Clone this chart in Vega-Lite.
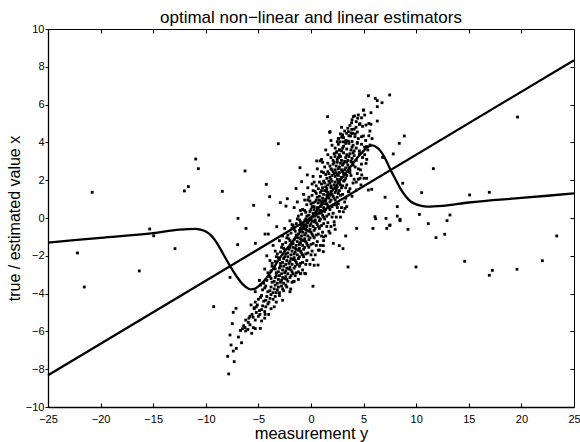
{
  "$schema": "https://vega.github.io/schema/vega-lite/v6.json",
  "width": 526,
  "height": 378,
  "autosize": "none",
  "padding": {"left": 48, "top": 29, "right": 6, "bottom": 35},
  "background": "white",
  "config": {"view": {"stroke": "black", "strokeWidth": 1}, "font": "Liberation Sans"},
  "title": {"text": "optimal non−linear and linear estimators", "fontSize": 17, "fontWeight": "normal", "font": "Liberation Sans", "color": "black", "offset": 0, "dy": 4, "anchor": "middle"},
  "datasets": {
    "pts": [
      {"m": -20.8, "v": 1.36}, {"m": -10.96, "v": 3.12}, {"m": -10.71, "v": 2.61}, {"m": -12.04, "v": 1.43}, {"m": -11.66, "v": 1.66}, {"m": -8.43, "v": 1.41}, {"m": -6.27, "v": 2.49}, {"m": -3.11, "v": 3.93}, {"m": -4.25, "v": 1.78}, {"m": -3.93, "v": 1.13}, {"m": -5.45, "v": 0.67}, {"m": -2.92, "v": 0.81}, {"m": -2.38, "v": 0.63}, {"m": -2.25, "v": 1.02}, {"m": -4.02, "v": 0.16}, {"m": -6.94, "v": -0.02},
      {"m": -22.2, "v": -1.85}, {"m": -21.55, "v": -3.65}, {"m": -15.33, "v": -0.58}, {"m": -14.95, "v": -0.94}, {"m": -16.32, "v": -2.8}, {"m": -12.93, "v": -1.62}, {"m": -9.25, "v": -4.69}, {"m": -7.7, "v": -3.14}, {"m": -6.97, "v": -1.41}, {"m": -6.18, "v": -0.55}, {"m": -7.82, "v": -8.25}, {"m": -7.92, "v": -7.32}, {"m": -7.6, "v": -6.72}, {"m": -7.39, "v": -7.04}, {"m": -7.7, "v": -6.19}, {"m": -7.48, "v": -5.59}, {"m": -7.13, "v": -4.78}, {"m": -7.39, "v": -4.99}, {"m": -6.53, "v": -5.86}, {"m": -6.21, "v": -5.98}, {"m": -6.27, "v": -5.8}, {"m": -5.64, "v": -6.1}, {"m": -5.49, "v": -5.8}, {"m": -5.96, "v": -5.52}, {"m": -4.82, "v": -5.84}, {"m": -5.8, "v": -5.2}, {"m": -5.2, "v": -5.0}, {"m": -4.86, "v": -5.1}, {"m": -4.36, "v": -5.1}, {"m": -4.02, "v": -5.1}, {"m": -5.4, "v": -4.75}, {"m": -4.37, "v": -0.85}, {"m": -4.06, "v": -0.85}, {"m": -3.26, "v": -0.46}, {"m": -5.29, "v": -1.34},
      {"m": 4.34, "v": -0.55}, {"m": 5.89, "v": -0.55}, {"m": 7.48, "v": -0.39}, {"m": 9.22, "v": -0.6}, {"m": 11.15, "v": -0.3}, {"m": 12.93, "v": -0.14}, {"m": 8.46, "v": -0.14}, {"m": 11.88, "v": -1.04}, {"m": 12.71, "v": -0.86}, {"m": 3.3, "v": -0.95}, {"m": 2.12, "v": -1.34}, {"m": 2.69, "v": -1.46}, {"m": 3.04, "v": -1.62}, {"m": 3.52, "v": -2.59}, {"m": 9.98, "v": -2.59}, {"m": 14.61, "v": -2.29}, {"m": 16.95, "v": -3.03}, {"m": 17.24, "v": -2.77}, {"m": 19.58, "v": -2.71}, {"m": 21.99, "v": -2.26}, {"m": 23.36, "v": -0.95}, {"m": 0.19, "v": -3.61}, {"m": -1.68, "v": -3.37}, {"m": -1.93, "v": -3.76}, {"m": 2.22, "v": -0.37}, {"m": 1.17, "v": -1.46}, {"m": 1.17, "v": -1.78}, {"m": 0.67, "v": -2.49}, {"m": -0.6, "v": -2.93}, {"m": -0.98, "v": -2.93},
      {"m": 5.45, "v": 6.47}, {"m": 6.11, "v": 6.33}, {"m": 6.3, "v": 6.21}, {"m": 6.75, "v": 6.1}, {"m": 7.48, "v": 6.51}, {"m": 6.3, "v": 5.89}, {"m": 5.7, "v": 5.57}, {"m": 5.01, "v": 5.71}, {"m": 1.58, "v": 5.36}, {"m": 4.15, "v": 5.4}, {"m": 4.44, "v": 5.28}, {"m": 6.3, "v": 5.13}, {"m": 3.86, "v": 5.04}, {"m": 4.66, "v": 4.99}, {"m": 5.23, "v": 4.92}, {"m": 5.7, "v": 4.96}, {"m": 1.78, "v": 4.53}, {"m": 3.39, "v": 4.48}, {"m": 3.96, "v": 4.48}, {"m": 3.77, "v": 4.34}, {"m": 4.18, "v": 4.3}, {"m": 4.97, "v": 4.34}, {"m": 2.95, "v": 4.3}, {"m": 2.6, "v": 4.21}, {"m": 2.76, "v": 4.03}, {"m": 3.07, "v": 4.03}, {"m": 5.61, "v": 3.86}, {"m": 5.29, "v": 3.78}, {"m": 8.39, "v": 3.95}, {"m": 8.87, "v": 4.34}, {"m": 7.82, "v": 3.39}, {"m": 6.81, "v": 3.21},
      {"m": 19.63, "v": 5.34}, {"m": 11.63, "v": 2.61}, {"m": 8.72, "v": 1.84}, {"m": 10.52, "v": 1.34}, {"m": 15.08, "v": 1.22}, {"m": 16.95, "v": 1.36}, {"m": 7.04, "v": 1.1}, {"m": 8.2, "v": 0.6}, {"m": 6.15, "v": -0.04}, {"m": 8.46, "v": -0.07}, {"m": 10.3, "v": 0.19}, {"m": 13.21, "v": 0.16}, {"m": 1.81, "v": 4.57}, {"m": 4.34, "v": 1.48}, {"m": 4.75, "v": 1.75}, {"m": 4.82, "v": 2.28}, {"m": 4.66, "v": 2.1},
      {"m": -1.05, "v": 2.66}, {"m": -0.35, "v": 2.28}, {"m": -0.89, "v": 1.92}, {"m": -1.42, "v": 1.56}, {"m": 0.54, "v": 3.02}, {"m": 0.86, "v": 3.02}, {"m": 2.28, "v": 3.25}, {"m": 2.44, "v": 3.51}, {"m": 2.69, "v": 3.6}, {"m": 2.5, "v": 4.04}, {"m": 2.92, "v": 4.27}, {"m": 3.55, "v": 4.07}, {"m": 3.55, "v": 4.57}, {"m": 3.87, "v": 4.69}, {"m": 4.28, "v": 4.8}, {"m": 4.02, "v": 5.36}, {"m": 4.5, "v": 5.45}, {"m": 4.97, "v": 5.71}, {"m": 7.51, "v": -0.37}, {"m": 7.2, "v": -0.55}, {"m": 5.04, "v": 2.1}, {"m": 5.29, "v": 2.1}, {"m": 5.23, "v": 2.89}, {"m": 4.5, "v": 2.05}, {"m": 2.44, "v": 0.69}, {"m": 3.23, "v": 0.51}, {"m": 3.07, "v": 0.33}, {"m": 3.55, "v": 1.39}, {"m": 5.45, "v": 1.48}, {"m": 5.77, "v": 1.52}, {"m": 6.08, "v": 0.07}, {"m": 7.13, "v": -0.02}, {"m": 8.2, "v": 0.1},
      {"m": 4.3, "v": 5.1}, {"m": 4.8, "v": 5.3}, {"m": 5.5, "v": 5.0}, {"m": 3.9, "v": 5.2}, {"m": 5.1, "v": 5.45},
      {"m": 3.2, "v": 4.6}, {"m": 3.7, "v": 4.9}, {"m": 4.1, "v": 4.7}, {"m": 4.4, "v": 4.55}, {"m": 4.9, "v": 4.85}, {"m": 5.6, "v": 4.6}, {"m": 3.5, "v": 4.75}, {"m": 4.6, "v": 4.95}, {"m": 2.9, "v": 4.8},
      {"m": 2.6, "v": 4.2}, {"m": 3.0, "v": 4.4}, {"m": 3.3, "v": 4.1}, {"m": 3.6, "v": 4.35}, {"m": 3.9, "v": 4.05}, {"m": 4.2, "v": 4.45}, {"m": 4.5, "v": 4.2}, {"m": 4.8, "v": 4.3}, {"m": 5.2, "v": 4.1}, {"m": 3.1, "v": 4.25}, {"m": 3.8, "v": 4.5}, {"m": 4.4, "v": 4.0}, {"m": 2.8, "v": 4.45}, {"m": 5.5, "v": 4.35},
      {"m": 2.3, "v": 3.7}, {"m": 2.6, "v": 3.9}, {"m": 2.9, "v": 3.55}, {"m": 3.1, "v": 3.8}, {"m": 3.4, "v": 3.65}, {"m": 3.6, "v": 3.95}, {"m": 3.8, "v": 3.6}, {"m": 4.0, "v": 3.85}, {"m": 4.3, "v": 3.7}, {"m": 4.6, "v": 3.55}, {"m": 4.8, "v": 3.9}, {"m": 5.1, "v": 3.75}, {"m": 2.7, "v": 3.6}, {"m": 3.3, "v": 3.95}, {"m": 3.9, "v": 3.75}, {"m": 4.4, "v": 3.95}, {"m": 2.0, "v": 3.85}, {"m": 5.4, "v": 3.6}, {"m": 3.0, "v": 3.7}, {"m": 4.1, "v": 3.55},
      {"m": 1.9, "v": 3.2}, {"m": 2.2, "v": 3.4}, {"m": 2.5, "v": 3.1}, {"m": 2.7, "v": 3.35}, {"m": 2.9, "v": 3.05}, {"m": 3.1, "v": 3.45}, {"m": 3.3, "v": 3.2}, {"m": 3.5, "v": 3.05}, {"m": 3.7, "v": 3.4}, {"m": 3.9, "v": 3.15}, {"m": 4.1, "v": 3.3}, {"m": 4.3, "v": 3.05}, {"m": 4.6, "v": 3.4}, {"m": 4.9, "v": 3.2}, {"m": 2.4, "v": 3.45}, {"m": 2.8, "v": 3.25}, {"m": 3.2, "v": 3.0}, {"m": 3.6, "v": 3.25}, {"m": 4.0, "v": 3.45}, {"m": 1.6, "v": 3.35}, {"m": 2.1, "v": 3.05}, {"m": 3.4, "v": 3.35}, {"m": 5.3, "v": 3.1}, {"m": 3.8, "v": 3.0}, {"m": 2.6, "v": 3.2},
      {"m": 1.3, "v": 2.7}, {"m": 1.6, "v": 2.9}, {"m": 1.9, "v": 2.6}, {"m": 2.1, "v": 2.85}, {"m": 2.3, "v": 2.55}, {"m": 2.5, "v": 2.95}, {"m": 2.7, "v": 2.7}, {"m": 2.9, "v": 2.55}, {"m": 3.1, "v": 2.9}, {"m": 3.3, "v": 2.65}, {"m": 3.5, "v": 2.8}, {"m": 3.7, "v": 2.55}, {"m": 3.9, "v": 2.95}, {"m": 4.2, "v": 2.7}, {"m": 4.5, "v": 2.6}, {"m": 1.8, "v": 2.75}, {"m": 2.2, "v": 2.95}, {"m": 2.6, "v": 2.6}, {"m": 3.0, "v": 2.8}, {"m": 3.4, "v": 2.95}, {"m": 3.6, "v": 2.65}, {"m": 2.4, "v": 2.75}, {"m": 2.8, "v": 2.9}, {"m": 4.0, "v": 2.8}, {"m": 1.1, "v": 2.95}, {"m": 3.2, "v": 2.55}, {"m": 4.8, "v": 2.85}, {"m": 2.0, "v": 2.55},
      {"m": 0.9, "v": 2.2}, {"m": 1.2, "v": 2.4}, {"m": 1.5, "v": 2.1}, {"m": 1.7, "v": 2.35}, {"m": 1.9, "v": 2.05}, {"m": 2.1, "v": 2.45}, {"m": 2.3, "v": 2.2}, {"m": 2.5, "v": 2.05}, {"m": 2.7, "v": 2.4}, {"m": 2.9, "v": 2.15}, {"m": 3.1, "v": 2.35}, {"m": 3.3, "v": 2.1}, {"m": 3.5, "v": 2.45}, {"m": 3.8, "v": 2.25}, {"m": 4.1, "v": 2.05}, {"m": 1.4, "v": 2.3}, {"m": 1.8, "v": 2.15}, {"m": 2.2, "v": 2.35}, {"m": 2.6, "v": 2.25}, {"m": 3.0, "v": 2.45}, {"m": 3.4, "v": 2.25}, {"m": 2.4, "v": 2.4}, {"m": 2.0, "v": 2.25}, {"m": 2.8, "v": 2.05}, {"m": 1.0, "v": 2.45}, {"m": 3.2, "v": 2.0}, {"m": 3.7, "v": 2.4}, {"m": 4.4, "v": 2.35}, {"m": 1.6, "v": 2.45}, {"m": 2.5, "v": 2.3},
      {"m": 0.5, "v": 1.7}, {"m": 0.8, "v": 1.9}, {"m": 1.1, "v": 1.6}, {"m": 1.3, "v": 1.85}, {"m": 1.5, "v": 1.55}, {"m": 1.7, "v": 1.95}, {"m": 1.9, "v": 1.7}, {"m": 2.1, "v": 1.55}, {"m": 2.3, "v": 1.9}, {"m": 2.5, "v": 1.65}, {"m": 2.7, "v": 1.85}, {"m": 2.9, "v": 1.6}, {"m": 3.1, "v": 1.95}, {"m": 3.4, "v": 1.75}, {"m": 3.7, "v": 1.55}, {"m": 1.0, "v": 1.8}, {"m": 1.4, "v": 1.65}, {"m": 1.8, "v": 1.85}, {"m": 2.2, "v": 1.75}, {"m": 2.6, "v": 1.95}, {"m": 3.0, "v": 1.7}, {"m": 1.6, "v": 1.75}, {"m": 2.0, "v": 1.95}, {"m": 2.4, "v": 1.55}, {"m": 0.7, "v": 1.55}, {"m": 2.8, "v": 1.75}, {"m": 3.3, "v": 1.6}, {"m": 1.2, "v": 1.95}, {"m": 4.0, "v": 1.85}, {"m": 0.3, "v": 1.9}, {"m": 1.9, "v": 1.6},
      {"m": 0.1, "v": 1.2}, {"m": 0.4, "v": 1.4}, {"m": 0.6, "v": 1.1}, {"m": 0.9, "v": 1.35}, {"m": 1.1, "v": 1.05}, {"m": 1.3, "v": 1.45}, {"m": 1.5, "v": 1.2}, {"m": 1.7, "v": 1.05}, {"m": 1.9, "v": 1.4}, {"m": 2.1, "v": 1.15}, {"m": 2.3, "v": 1.35}, {"m": 2.5, "v": 1.1}, {"m": 2.7, "v": 1.45}, {"m": 3.0, "v": 1.25}, {"m": 3.3, "v": 1.05}, {"m": 0.5, "v": 1.3}, {"m": 0.8, "v": 1.15}, {"m": 1.2, "v": 1.25}, {"m": 1.6, "v": 1.35}, {"m": 2.0, "v": 1.25}, {"m": 2.4, "v": 1.45}, {"m": 2.8, "v": 1.2}, {"m": 1.4, "v": 1.0}, {"m": 1.8, "v": 1.2}, {"m": 2.2, "v": 1.05}, {"m": 0.2, "v": 1.45}, {"m": 1.0, "v": 1.45}, {"m": 2.6, "v": 1.3}, {"m": -0.2, "v": 1.1}, {"m": 3.6, "v": 1.4}, {"m": 1.5, "v": 1.4},
      {"m": -0.4, "v": 0.7}, {"m": -0.1, "v": 0.9}, {"m": 0.1, "v": 0.6}, {"m": 0.4, "v": 0.85}, {"m": 0.6, "v": 0.55}, {"m": 0.8, "v": 0.95}, {"m": 1.0, "v": 0.7}, {"m": 1.2, "v": 0.55}, {"m": 1.4, "v": 0.9}, {"m": 1.6, "v": 0.65}, {"m": 1.8, "v": 0.85}, {"m": 2.0, "v": 0.6}, {"m": 2.3, "v": 0.95}, {"m": 2.6, "v": 0.75}, {"m": 2.9, "v": 0.55}, {"m": 0.0, "v": 0.75}, {"m": 0.3, "v": 0.6}, {"m": 0.7, "v": 0.8}, {"m": 1.1, "v": 0.9}, {"m": 1.5, "v": 0.75}, {"m": 1.9, "v": 0.95}, {"m": 2.2, "v": 0.7}, {"m": 0.5, "v": 0.95}, {"m": 0.9, "v": 0.6}, {"m": 1.3, "v": 0.75}, {"m": 1.7, "v": 0.55}, {"m": -0.3, "v": 0.95}, {"m": 2.5, "v": 0.55}, {"m": 3.2, "v": 0.85}, {"m": 0.2, "v": 0.8}, {"m": 1.0, "v": 0.85},
      {"m": -0.9, "v": 0.2}, {"m": -0.6, "v": 0.4}, {"m": -0.4, "v": 0.1}, {"m": -0.1, "v": 0.35}, {"m": 0.1, "v": 0.05}, {"m": 0.3, "v": 0.45}, {"m": 0.5, "v": 0.2}, {"m": 0.7, "v": 0.05}, {"m": 0.9, "v": 0.4}, {"m": 1.1, "v": 0.15}, {"m": 1.3, "v": 0.35}, {"m": 1.5, "v": 0.1}, {"m": 1.8, "v": 0.45}, {"m": 2.1, "v": 0.25}, {"m": 2.4, "v": 0.05}, {"m": -0.5, "v": 0.3}, {"m": -0.2, "v": 0.15}, {"m": 0.2, "v": 0.25}, {"m": 0.6, "v": 0.4}, {"m": 1.0, "v": 0.3}, {"m": 1.4, "v": 0.45}, {"m": 1.7, "v": 0.2}, {"m": 0.0, "v": 0.45}, {"m": 0.4, "v": 0.1}, {"m": 0.8, "v": 0.25}, {"m": 1.2, "v": 0.05}, {"m": -0.8, "v": 0.45}, {"m": 2.0, "v": 0.05}, {"m": 2.7, "v": 0.35}, {"m": -1.2, "v": 0.1}, {"m": 0.5, "v": 0.35},
      {"m": -1.4, "v": -0.3}, {"m": -1.1, "v": -0.1}, {"m": -0.9, "v": -0.4}, {"m": -0.6, "v": -0.15}, {"m": -0.4, "v": -0.45}, {"m": -0.2, "v": -0.05}, {"m": 0.0, "v": -0.3}, {"m": 0.2, "v": -0.45}, {"m": 0.4, "v": -0.1}, {"m": 0.6, "v": -0.35}, {"m": 0.8, "v": -0.15}, {"m": 1.0, "v": -0.4}, {"m": 1.3, "v": -0.05}, {"m": 1.6, "v": -0.25}, {"m": 1.9, "v": -0.45}, {"m": -1.0, "v": -0.2}, {"m": -0.7, "v": -0.35}, {"m": -0.3, "v": -0.25}, {"m": 0.1, "v": -0.15}, {"m": 0.5, "v": -0.25}, {"m": 0.9, "v": -0.05}, {"m": 1.2, "v": -0.3}, {"m": -0.5, "v": -0.05}, {"m": -0.1, "v": -0.4}, {"m": 0.3, "v": -0.2}, {"m": 0.7, "v": -0.45}, {"m": -1.3, "v": -0.05}, {"m": 1.5, "v": -0.45}, {"m": 2.2, "v": -0.2}, {"m": -1.7, "v": -0.4}, {"m": 0.0, "v": -0.1},
      {"m": -1.9, "v": -0.8}, {"m": -1.6, "v": -0.6}, {"m": -1.4, "v": -0.9}, {"m": -1.1, "v": -0.65}, {"m": -0.9, "v": -0.95}, {"m": -0.7, "v": -0.55}, {"m": -0.5, "v": -0.8}, {"m": -0.3, "v": -0.95}, {"m": -0.1, "v": -0.6}, {"m": 0.1, "v": -0.85}, {"m": 0.3, "v": -0.65}, {"m": 0.5, "v": -0.9}, {"m": 0.8, "v": -0.55}, {"m": 1.1, "v": -0.75}, {"m": 1.4, "v": -0.95}, {"m": -1.5, "v": -0.7}, {"m": -1.2, "v": -0.85}, {"m": -0.8, "v": -0.75}, {"m": -0.4, "v": -0.65}, {"m": 0.0, "v": -0.75}, {"m": 0.4, "v": -0.55}, {"m": 0.7, "v": -0.85}, {"m": -1.0, "v": -0.55}, {"m": -0.6, "v": -0.9}, {"m": -0.2, "v": -0.7}, {"m": 0.2, "v": -0.95}, {"m": -1.8, "v": -0.55}, {"m": 1.0, "v": -0.95}, {"m": 1.7, "v": -0.7}, {"m": -2.2, "v": -0.9}, {"m": -0.5, "v": -0.6},
      {"m": -2.4, "v": -1.3}, {"m": -2.1, "v": -1.1}, {"m": -1.9, "v": -1.4}, {"m": -1.6, "v": -1.15}, {"m": -1.4, "v": -1.45}, {"m": -1.2, "v": -1.05}, {"m": -1.0, "v": -1.3}, {"m": -0.8, "v": -1.45}, {"m": -0.6, "v": -1.1}, {"m": -0.4, "v": -1.35}, {"m": -0.2, "v": -1.15}, {"m": 0.0, "v": -1.4}, {"m": 0.3, "v": -1.05}, {"m": 0.6, "v": -1.25}, {"m": 0.9, "v": -1.45}, {"m": -2.0, "v": -1.2}, {"m": -1.7, "v": -1.35}, {"m": -1.3, "v": -1.25}, {"m": -0.9, "v": -1.15}, {"m": -0.5, "v": -1.25}, {"m": -0.1, "v": -1.05}, {"m": 0.2, "v": -1.35}, {"m": -1.5, "v": -1.05}, {"m": -1.1, "v": -1.4}, {"m": -0.7, "v": -1.2}, {"m": -0.3, "v": -1.45}, {"m": -2.3, "v": -1.05}, {"m": 0.5, "v": -1.45}, {"m": 1.2, "v": -1.2}, {"m": -2.7, "v": -1.4}, {"m": -1.0, "v": -1.1},
      {"m": -2.9, "v": -1.8}, {"m": -2.6, "v": -1.6}, {"m": -2.4, "v": -1.9}, {"m": -2.1, "v": -1.65}, {"m": -1.9, "v": -1.95}, {"m": -1.7, "v": -1.55}, {"m": -1.5, "v": -1.8}, {"m": -1.3, "v": -1.95}, {"m": -1.1, "v": -1.6}, {"m": -0.9, "v": -1.85}, {"m": -0.7, "v": -1.65}, {"m": -0.5, "v": -1.9}, {"m": -0.2, "v": -1.55}, {"m": 0.1, "v": -1.75}, {"m": 0.4, "v": -1.95}, {"m": -2.5, "v": -1.7}, {"m": -2.2, "v": -1.85}, {"m": -1.8, "v": -1.75}, {"m": -1.4, "v": -1.65}, {"m": -1.0, "v": -1.75}, {"m": -0.6, "v": -1.55}, {"m": -0.3, "v": -1.85}, {"m": -2.0, "v": -1.55}, {"m": -1.6, "v": -1.9}, {"m": -1.2, "v": -1.7}, {"m": -0.8, "v": -1.95}, {"m": -2.8, "v": -1.55}, {"m": 0.0, "v": -1.95}, {"m": 0.7, "v": -1.7}, {"m": -3.2, "v": -1.9}, {"m": -1.5, "v": -1.6},
      {"m": -3.4, "v": -2.3}, {"m": -3.1, "v": -2.1}, {"m": -2.9, "v": -2.4}, {"m": -2.6, "v": -2.15}, {"m": -2.4, "v": -2.45}, {"m": -2.2, "v": -2.05}, {"m": -2.0, "v": -2.3}, {"m": -1.8, "v": -2.45}, {"m": -1.6, "v": -2.1}, {"m": -1.4, "v": -2.35}, {"m": -1.2, "v": -2.15}, {"m": -1.0, "v": -2.4}, {"m": -0.7, "v": -2.05}, {"m": -0.4, "v": -2.25}, {"m": -0.1, "v": -2.45}, {"m": -3.0, "v": -2.2}, {"m": -2.7, "v": -2.35}, {"m": -2.3, "v": -2.25}, {"m": -1.9, "v": -2.15}, {"m": -1.5, "v": -2.25}, {"m": -1.1, "v": -2.05}, {"m": -0.8, "v": -2.35}, {"m": -2.5, "v": -2.05}, {"m": -2.1, "v": -2.4}, {"m": -1.7, "v": -2.2}, {"m": -1.3, "v": -2.45}, {"m": -3.3, "v": -2.05}, {"m": -0.5, "v": -2.45}, {"m": 0.2, "v": -2.2}, {"m": -3.7, "v": -2.4},
      {"m": -3.8, "v": -2.8}, {"m": -3.5, "v": -2.6}, {"m": -3.3, "v": -2.9}, {"m": -3.0, "v": -2.65}, {"m": -2.8, "v": -2.95}, {"m": -2.6, "v": -2.55}, {"m": -2.4, "v": -2.8}, {"m": -2.2, "v": -2.95}, {"m": -2.0, "v": -2.6}, {"m": -1.8, "v": -2.85}, {"m": -1.6, "v": -2.65}, {"m": -1.4, "v": -2.9}, {"m": -1.1, "v": -2.55}, {"m": -0.8, "v": -2.75}, {"m": -0.5, "v": -2.95}, {"m": -3.4, "v": -2.7}, {"m": -3.1, "v": -2.85}, {"m": -2.7, "v": -2.75}, {"m": -2.3, "v": -2.65}, {"m": -1.9, "v": -2.75}, {"m": -1.5, "v": -2.55}, {"m": -1.2, "v": -2.85}, {"m": -2.9, "v": -2.55}, {"m": -2.5, "v": -2.9}, {"m": -2.1, "v": -2.7}, {"m": -1.7, "v": -2.95}, {"m": -3.7, "v": -2.55}, {"m": -1.0, "v": -2.95}, {"m": -4.1, "v": -2.9},
      {"m": -4.2, "v": -3.3}, {"m": -3.9, "v": -3.1}, {"m": -3.7, "v": -3.4}, {"m": -3.4, "v": -3.15}, {"m": -3.2, "v": -3.45}, {"m": -3.0, "v": -3.05}, {"m": -2.8, "v": -3.3}, {"m": -2.6, "v": -3.45}, {"m": -2.4, "v": -3.1}, {"m": -2.2, "v": -3.35}, {"m": -2.0, "v": -3.15}, {"m": -1.8, "v": -3.4}, {"m": -1.5, "v": -3.05}, {"m": -1.2, "v": -3.25}, {"m": -3.8, "v": -3.2}, {"m": -3.5, "v": -3.35}, {"m": -3.1, "v": -3.25}, {"m": -2.7, "v": -3.15}, {"m": -2.3, "v": -3.25}, {"m": -1.9, "v": -3.05}, {"m": -1.6, "v": -3.35}, {"m": -3.3, "v": -3.05}, {"m": -2.9, "v": -3.4}, {"m": -2.5, "v": -3.2}, {"m": -4.5, "v": -3.45},
      {"m": -4.6, "v": -3.8}, {"m": -4.3, "v": -3.6}, {"m": -4.1, "v": -3.9}, {"m": -3.8, "v": -3.65}, {"m": -3.6, "v": -3.95}, {"m": -3.4, "v": -3.55}, {"m": -3.2, "v": -3.8}, {"m": -3.0, "v": -3.95}, {"m": -2.8, "v": -3.6}, {"m": -2.6, "v": -3.85}, {"m": -2.3, "v": -3.65}, {"m": -2.0, "v": -3.9}, {"m": -4.4, "v": -3.7}, {"m": -3.9, "v": -3.85}, {"m": -3.5, "v": -3.75}, {"m": -3.1, "v": -3.65}, {"m": -2.7, "v": -3.75}, {"m": -4.8, "v": -3.55}, {"m": -3.3, "v": -3.95}, {"m": -2.4, "v": -3.55},
      {"m": -5.0, "v": -4.3}, {"m": -4.7, "v": -4.1}, {"m": -4.5, "v": -4.4}, {"m": -4.2, "v": -4.15}, {"m": -4.0, "v": -4.45}, {"m": -3.8, "v": -4.05}, {"m": -3.6, "v": -4.3}, {"m": -3.3, "v": -4.45}, {"m": -3.0, "v": -4.1}, {"m": -2.7, "v": -4.35}, {"m": -4.8, "v": -4.2}, {"m": -4.3, "v": -4.35}, {"m": -3.9, "v": -4.25}, {"m": -3.4, "v": -4.15}, {"m": -5.3, "v": -4.45},
      {"m": -5.4, "v": -4.8}, {"m": -5.1, "v": -4.6}, {"m": -4.9, "v": -4.9}, {"m": -4.6, "v": -4.65}, {"m": -4.4, "v": -4.95}, {"m": -4.1, "v": -4.55}, {"m": -3.8, "v": -4.8}, {"m": -3.5, "v": -4.7}, {"m": -5.2, "v": -4.7}, {"m": -4.7, "v": -4.85}, {"m": -4.3, "v": -4.7}, {"m": -5.7, "v": -4.6},
      {"m": -5.9, "v": -5.3}, {"m": -5.6, "v": -5.1}, {"m": -5.3, "v": -5.4}, {"m": -5.0, "v": -5.2}, {"m": -4.7, "v": -5.45}, {"m": -4.4, "v": -5.3}, {"m": -5.5, "v": -5.25}, {"m": -6.2, "v": -5.4},
      {"m": -6.4, "v": -5.7}, {"m": -6.0, "v": -5.9}, {"m": -5.8, "v": -5.65}, {"m": -5.3, "v": -5.85}, {"m": -6.7, "v": -5.95},
      {"m": -6.9, "v": -6.3}, {"m": -6.6, "v": -6.6}, {"m": -7.1, "v": -6.9}, {"m": -7.3, "v": -7.6},
      {"m": -1.6, "v": 0.55}, {"m": -1.3, "v": 0.85}, {"m": -0.7, "v": 1.25}, {"m": -1.0, "v": 0.4}, {"m": -2.0, "v": -0.15}, {"m": -2.5, "v": -0.55}, {"m": -3.0, "v": -1.2}, {"m": -3.4, "v": -1.75}, {"m": -3.9, "v": -2.25}, {"m": -4.4, "v": -2.7}, {"m": -4.9, "v": -3.3}, {"m": -5.3, "v": -3.9},
      {"m": 1.8, "v": -0.8}, {"m": 2.3, "v": -0.6}, {"m": 2.8, "v": 0.05}, {"m": 3.4, "v": 0.6}, {"m": 3.9, "v": 1.15}, {"m": 4.3, "v": 1.9}, {"m": 4.7, "v": 2.55}, {"m": 5.1, "v": 3.35}, {"m": 5.8, "v": 4.2}, {"m": 1.2, "v": -1.0}, {"m": 0.8, "v": -1.7}, {"m": 0.3, "v": -2.5},
      {"m": -0.3, "v": 1.6}, {"m": 0.2, "v": 2.2}, {"m": 0.6, "v": 2.6}, {"m": 1.0, "v": 3.1}, {"m": 1.4, "v": 3.6}, {"m": 1.9, "v": 4.1}, {"m": 0.1, "v": 1.8}, {"m": -0.6, "v": 0.95}, {"m": -1.8, "v": -0.35}, {"m": -2.7, "v": -0.95}, {"m": -3.6, "v": -1.45}, {"m": -4.2, "v": -2.0}
    ],
    "nl": [
      {"m": -25, "v": -1.3}, {"m": -20, "v": -1.05}, {"m": -15, "v": -0.8}, {"m": -12.5, "v": -0.62}, {"m": -11, "v": -0.58}, {"m": -10.5, "v": -0.62}, {"m": -10, "v": -0.72}, {"m": -9.5, "v": -0.92}, {"m": -9, "v": -1.28}, {"m": -8.5, "v": -1.75}, {"m": -8, "v": -2.25}, {"m": -7.5, "v": -2.72}, {"m": -7, "v": -3.15}, {"m": -6.5, "v": -3.5}, {"m": -6, "v": -3.72}, {"m": -5.7, "v": -3.78}, {"m": -5.3, "v": -3.74}, {"m": -5, "v": -3.62}, {"m": -4.5, "v": -3.35}, {"m": -4, "v": -3.0}, {"m": -3.5, "v": -2.6}, {"m": -3, "v": -2.15}, {"m": -2, "v": -1.42}, {"m": -1, "v": -0.72}, {"m": 0, "v": 0}, {"m": 1, "v": 0.72}, {"m": 2, "v": 1.42}, {"m": 3, "v": 2.15}, {"m": 3.5, "v": 2.52}, {"m": 4, "v": 2.9}, {"m": 4.5, "v": 3.25}, {"m": 5, "v": 3.55}, {"m": 5.4, "v": 3.75}, {"m": 5.8, "v": 3.84}, {"m": 6.2, "v": 3.76}, {"m": 6.6, "v": 3.55}, {"m": 7, "v": 3.2}, {"m": 7.5, "v": 2.62}, {"m": 8, "v": 2.08}, {"m": 8.5, "v": 1.55}, {"m": 9, "v": 1.15}, {"m": 9.5, "v": 0.86}, {"m": 10, "v": 0.72}, {"m": 10.5, "v": 0.64}, {"m": 11, "v": 0.6}, {"m": 12.5, "v": 0.64}, {"m": 15, "v": 0.82}, {"m": 20, "v": 1.06}, {"m": 25, "v": 1.3}
    ],
    "lin": [
      {"m": -25, "v": -8.32}, {"m": 25, "v": 8.35}
    ]
  },
  "layer": [
    {
      "data": {"name": "pts"},
      "mark": {"type": "square", "size": 8, "color": "black", "opacity": 1, "filled": true},
      "encoding": {
        "x": {"field": "m", "type": "quantitative", "scale": {"domain": [-25, 25], "nice": false, "zero": false},
          "axis": {"orient": "bottom", "title": "measurement y", "values": [-25, -20, -15, -10, -5, 0, 5, 10, 15, 20, 25], "grid": false, "domainColor": "black", "domainWidth": 1.3, "ticks": false, "labelPadding": 6, "labelFlush": false, "labelOverlap": false, "labelFontSize": 11, "labelColor": "black", "labelFont": "Liberation Sans", "titleFontSize": 16.5, "titleFont": "Liberation Sans", "titleFontWeight": "normal", "titleColor": "black", "titlePadding": 1}},
        "y": {"field": "v", "type": "quantitative", "scale": {"domain": [-10, 10], "nice": false, "zero": false},
          "axis": {"orient": "left", "title": "true / estimated value x", "values": [-10, -8, -6, -4, -2, 0, 2, 4, 6, 8, 10], "grid": false, "domainColor": "black", "domainWidth": 1.3, "tickColor": "black", "tickSize": 3, "labelPadding": 1, "labelFlush": false, "labelOverlap": false, "labelFontSize": 11, "labelColor": "black", "labelFont": "Liberation Sans", "titleFontSize": 16, "titleFont": "Liberation Sans", "titleFontWeight": "normal", "titleColor": "black", "titlePadding": 3}}
      }
    },
    {
      "data": {"name": "nl"},
      "mark": {"type": "line", "color": "black", "strokeWidth": 2.3, "interpolate": "monotone"},
      "encoding": {
        "x": {"field": "m", "type": "quantitative",
          "axis": {"orient": "bottom", "title": null, "labels": false, "domain": false, "offset": -4, "values": [-20, -15, -10, -5, 0, 5, 10, 15, 20], "grid": false, "tickColor": "black", "tickSize": 4, "tickWidth": 1}},
        "y": {"field": "v", "type": "quantitative", "axis": null}
      }
    },
    {
      "data": {"name": "lin"},
      "mark": {"type": "line", "color": "black", "strokeWidth": 2.3},
      "encoding": {
        "x": {"field": "m", "type": "quantitative",
          "axis": {"orient": "top", "title": null, "labels": false, "domain": false, "offset": -4, "values": [-20, -15, -10, -5, 0, 5, 10, 15, 20], "grid": false, "tickColor": "black", "tickSize": 4, "tickWidth": 1}},
        "y": {"field": "v", "type": "quantitative",
          "axis": {"orient": "right", "title": null, "labels": false, "domain": false, "offset": -4, "values": [-8, -6, -4, -2, 0, 2, 4, 6, 8], "grid": false, "tickColor": "black", "tickSize": 4, "tickWidth": 1}}
      }
    }
  ],
  "resolve": {"axis": {"x": "independent", "y": "independent"}}
}
